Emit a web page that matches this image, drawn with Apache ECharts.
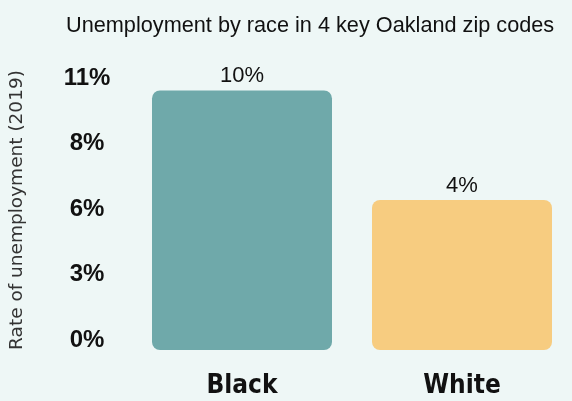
<!DOCTYPE html>
<html>
<head>
<meta charset="utf-8">
<script src="https://cdn.jsdelivr.net/npm/echarts@6/dist/echarts.min.js"></script>
<style>
  html, body { margin: 0; padding: 0; background: #eef7f6; }
  #chart { width: 572px; height: 401px; }
</style>
</head>
<body>
<div id="chart"></div>
<script>
// Data
const categories = ['Black', 'White'];
const barValues = [10.9, 6.3];          // bar heights as drawn, in % on the axis scale
const barLabels = ['10%', '4%'];        // value labels printed above the bars
const barColors = ['#6fa9aa', '#f7cc80'];
const yMin = 0;
const yMax = 11;
const yInterval = 2.75;                 // ticks 0, 2.75, 5.5, 8.25, 11 -> shown rounded
const titleText = 'Unemployment by race in 4 key Oakland zip codes';
const yAxisName = 'Rate of unemployment (2019)';

const chart = echarts.init(document.getElementById('chart'), null, { renderer: 'canvas' });
chart.setOption({
  backgroundColor: '#eef7f6',
  animation: false,
  title: {
    text: titleText,
    left: 61,
    top: 10,
    textStyle: {
      fontFamily: 'Liberation Sans',
      fontSize: 21.7,
      fontWeight: 'normal',
      color: '#111111'
    }
  },
  grid: { left: 132, right: 0, top: 88, bottom: 51, containLabel: false },
  xAxis: {
    type: 'category',
    data: categories,
    axisLine: { show: false },
    axisTick: { show: false },
    axisLabel: {
      margin: 23,
      fontFamily: "'DejaVu Sans Condensed', Roboto",
      fontWeight: 'bold',
      fontSize: 26,
      lineHeight: 26,
      color: '#111111'
    }
  },
  yAxis: {
    type: 'value',
    min: yMin,
    max: yMax,
    interval: yInterval,
    name: yAxisName,
    nameLocation: 'middle',
    nameGap: 105,
    nameTextStyle: {
      fontFamily: 'DejaVu Sans',
      fontSize: 18.5,
      color: '#333333',
      padding: [0, 0, 0, 18]
    },
    axisLine: { show: false },
    axisTick: { show: false },
    splitLine: { show: false },
    axisLabel: {
      formatter: v => Math.round(v) + '%',
      align: 'center',
      verticalAlign: 'bottom',
      lineHeight: 20,
      margin: 45,
      fontFamily: 'Liberation Sans',
      fontWeight: 'bold',
      fontSize: 24,
      color: '#111111'
    }
  },
  series: [{
    type: 'bar',
    barWidth: 180,
    data: barValues.map((v, i) => ({ value: v, itemStyle: { color: barColors[i] } })),
    itemStyle: { borderRadius: 8 },
    label: {
      show: true,
      position: 'top',
      distance: 3,
      formatter: p => barLabels[p.dataIndex],
      fontFamily: 'Liberation Sans',
      fontSize: 22,
      color: '#111111'
    }
  }]
});
</script>
</body>
</html>
